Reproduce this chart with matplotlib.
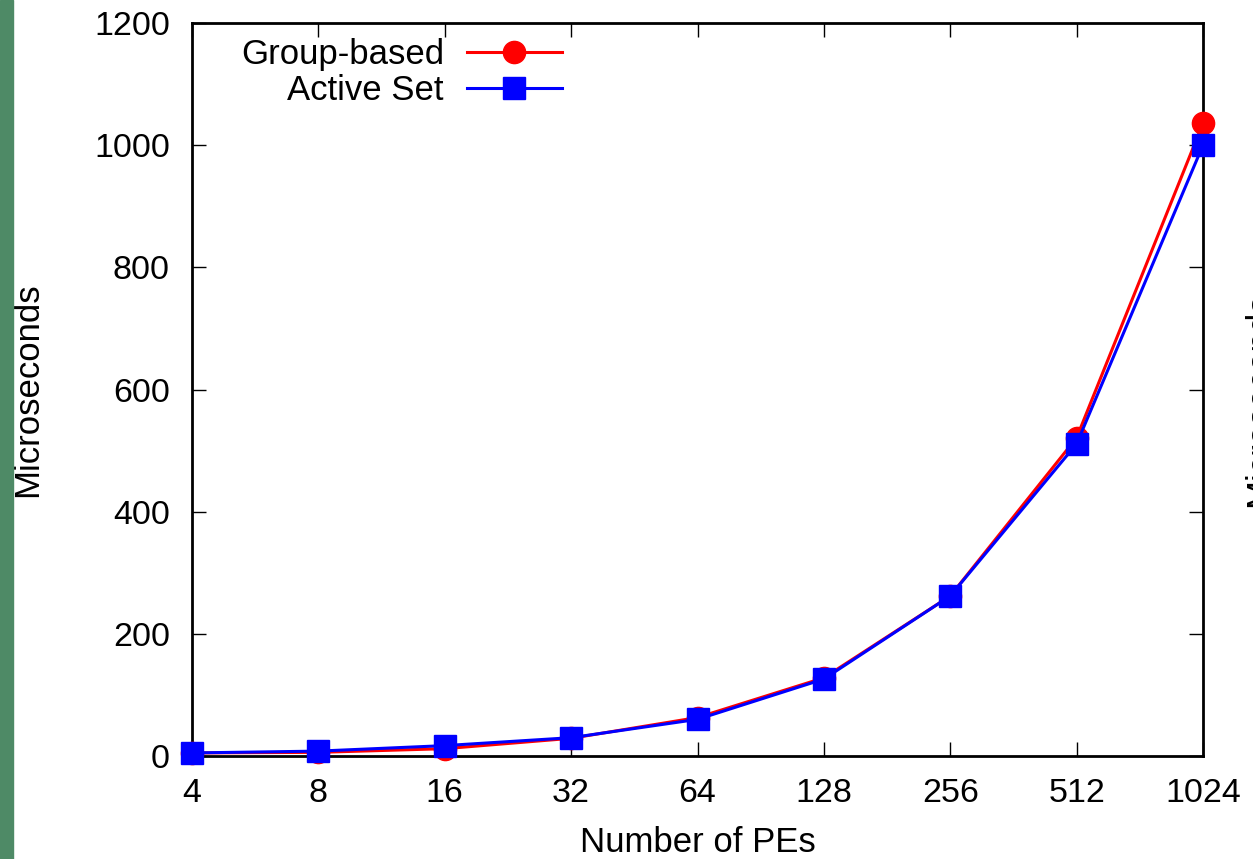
import matplotlib.pyplot as plt
from matplotlib.patches import Rectangle

plt.rcParams['font.family'] = ['Liberation Sans', 'DejaVu Sans']

pes = [4, 8, 16, 32, 64, 128, 256, 512, 1024]
group_based = [5, 6, 12, 29, 63, 128, 262, 521, 1036]
active_set = [5, 8, 17, 30, 60, 126, 262, 511, 1000]
y_ticks = [0, 200, 400, 600, 800, 1000, 1200]

fig = plt.figure(figsize=(12.53, 8.59), dpi=100)
ax = fig.add_axes([192 / 1253, 1 - 756 / 859, (1203 - 192) / 1253, (756 - 23) / 859])

# green strip on the left edge
fig.patches.append(Rectangle((0, 0), 13 / 1253, 1, transform=fig.transFigure,
                             color='#4E8A66', zorder=0))

ax.plot(pes, group_based, color='#FF0000', lw=2.2, marker='o', ms=16,
        label='Group-based', clip_on=False, zorder=3)
ax.plot(pes, active_set, color='#0000FF', lw=2.2, marker='s', ms=16,
        label='Active Set', clip_on=False, zorder=4)

ax.set_xscale('log', base=2)
ax.set_xlim(4, 1024)
ax.set_ylim(0, 1200)
ax.set_xticks(pes)
ax.set_xticklabels([str(p) for p in pes])
ax.minorticks_off()
ax.set_yticks(y_ticks)

ax.tick_params(direction='in', length=10, width=1, labelsize=24.5, pad=16,
               top=True, right=True)
for s in ax.spines.values():
    s.set_linewidth(2)

ax.set_xlabel('Number of PEs', fontsize=25, labelpad=12)
ax.set_ylabel('Microseconds', fontsize=25, labelpad=36)

ax.legend(loc='upper right', bbox_to_anchor=((562 - 192) / 1011, (756 - 38) / 733),
          frameon=False, markerfirst=False, fontsize=25, handlelength=2.75,
          handletextpad=0.65, labelspacing=0.1, borderaxespad=0, borderpad=0)

# neighbouring chart's label cut off at the right edge
fig.text(1243 / 1253, 1 - 400 / 859, 'Microseconds', rotation=90, fontsize=25,
         ha='left', va='center')

fig.savefig('out.png', dpi=100)
